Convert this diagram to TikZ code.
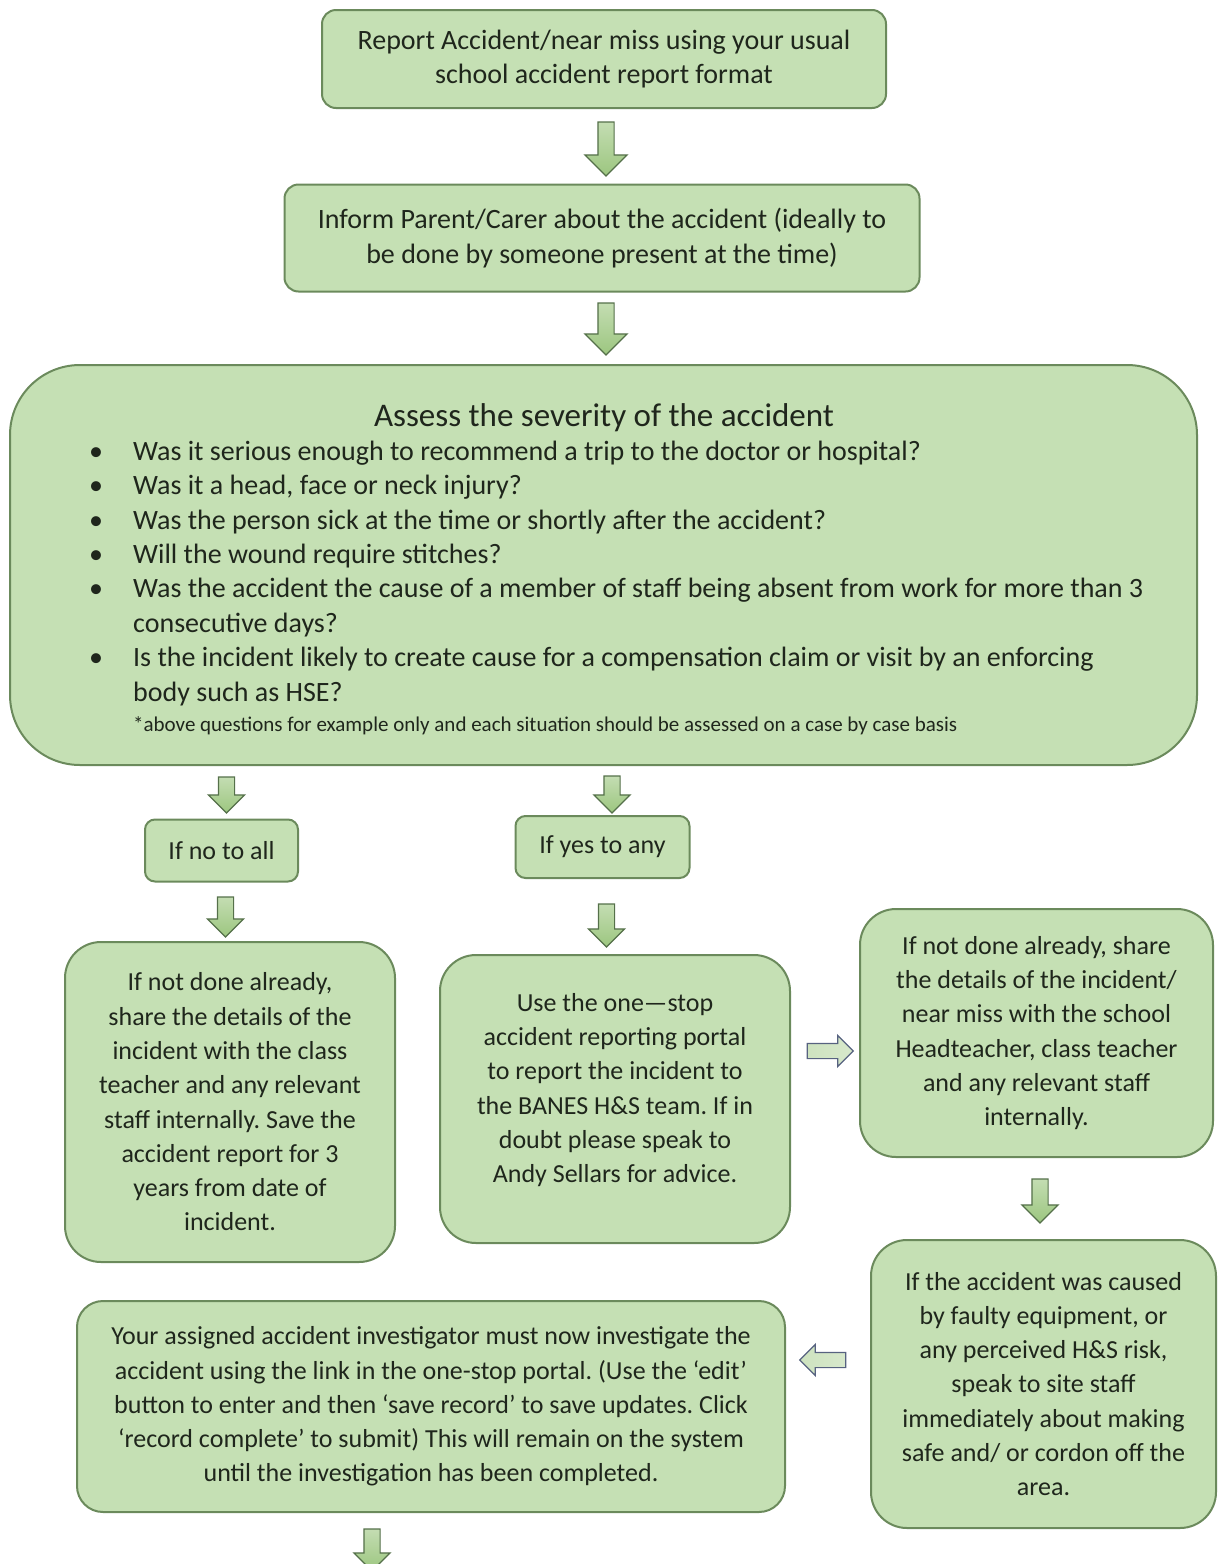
\documentclass[tikz,border=0pt]{standalone}
\usepackage{fontspec}
\setmainfont{Carlito}
\usetikzlibrary{shapes.arrows}
\definecolor{boxfill}{HTML}{C5E0B4}
\definecolor{boxline}{HTML}{6B8A5C}
\definecolor{txt}{HTML}{1F261C}
\definecolor{arrfill}{HTML}{9CC67F}
\definecolor{arrline}{HTML}{55704A}
\frenchspacing
\tikzset{
  box/.style={draw=boxline, line width=2pt, fill=boxfill, align=center, text=txt,
    font=\fontsize{26}{34.3}\selectfont, inner sep=0pt},
  boxtext/.style={align=center, text=txt, font=\fontsize{26}{34.3}\selectfont, inner sep=0pt},
  bigtext/.style={font=\fontsize{28}{34.4}\selectfont},
  darr/.style={single arrow, shape border rotate=270, draw=arrline, line width=1.2pt,
    top color=arrfill!60!white, bottom color=arrfill, inner sep=7.5pt,
    single arrow head extend=10pt, single arrow tip angle=90, minimum height=#1},
  harr/.style={single arrow, draw=arrline!70!blue!60!gray, line width=1.2pt,
    left color=arrfill!50!white, right color=arrfill!40!white, inner sep=7pt,
    single arrow head extend=8pt, single arrow tip angle=90, minimum height=46pt},
}
\begin{document}
\begin{tikzpicture}[x=1pt,y=-1pt]
\useasboundingbox (0,0) rectangle (1218,1564);
% boxes
\node[box, bigtext, rounded corners=14pt, minimum width=564pt, minimum height=98pt] (b1) at (604,59)
  {Report Accident/near miss using your usual\\school accident report format};
\node[box, bigtext, rounded corners=14pt, minimum width=635pt, minimum height=107pt] (b2) at (602,238)
  {Inform Parent/Carer about the accident (ideally to\\be done by someone present at the time)};
\node[box, rounded corners=70pt, minimum width=1187pt, minimum height=400pt] (assess) at (603.5,565) {};
\node[text=txt, font=\fontsize{33}{36}\selectfont] (title) at (604,418) {Assess the severity of the accident};
\node[text=txt, anchor=north west, inner sep=0pt, bigtext] (qs) at (89,436)
  {\begin{tabular}{@{}p{44pt}@{}l@{}}
  \textbullet & Was it serious enough to recommend a trip to the doctor or hospital?\\
  \textbullet & Was it a head, face or neck injury?\\
  \textbullet & Was the person sick at the time or shortly after the accident?\\
  \textbullet & Will the wound require stitches?\\
  \textbullet & Was the accident the cause of a member of staff being absent from work for more than 3\\
   & consecutive days?\\
  \textbullet & Is the incident likely to create cause for a compensation claim or visit by an enforcing\\
   & body such as HSE?
  \end{tabular}};
\node[text=txt, anchor=west, inner sep=0pt, font=\fontsize{21}{24}\selectfont] (note) at (133,726)
  {*above questions for example only and each situation should be assessed on a case by case basis};
\node[box, rounded corners=10pt, minimum width=153pt, minimum height=62pt] (no) at (221.5,850.5) {If no to all};
\node[box, rounded corners=10pt, minimum width=174pt, minimum height=62pt] (yes) at (602.5,847) {If yes to any};
\node[box, rounded corners=36pt, minimum width=330pt, minimum height=320pt] (left) at (230,1102)
  {If not done already,\\share the details of the\\incident with the class\\teacher and any relevant\\staff internally. Save the\\accident report for 3\\years from date of\\incident.};
\node[box, rounded corners=36pt, minimum width=350pt, minimum height=288pt] (mid) at (615,1099) {};
\node[boxtext] (midtext) at (615,1090)
  {Use the one\textemdash stop\\accident reporting portal\\to report the incident to\\the BANES H\&S team. If in\\doubt please speak to\\Andy Sellars for advice.};
\node[box, rounded corners=36pt, minimum width=353pt, minimum height=248pt] (rtop) at (1036.5,1033)
  {If not done already, share\\the details of the incident/\\near miss with the school\\Headteacher, class teacher\\and any relevant staff\\internally.};
\node[box, rounded corners=36pt, minimum width=345pt, minimum height=288pt] (rbot) at (1043.5,1384)
  {If the accident was caused\\by faulty equipment, or\\any perceived H\&S risk,\\speak to site staff\\immediately about making\\safe and/ or cordon off the\\area.};
\node[box, rounded corners=26pt, minimum width=708pt, minimum height=211pt] (bot) at (431,1406.5)
  {Your assigned accident investigator must now investigate the\\accident using the link in the one-stop portal. (Use the ‘edit’\\button to enter and then ‘save record’ to save updates. Click\\‘record complete’ to submit) This will remain on the system\\until the investigation has been completed.};
% arrows
\node[darr=54pt, single arrow head extend=13pt] (a1) at (606,145) {};
\node[darr=52pt, single arrow head extend=13pt] (a2) at (606,325) {};
\node[darr=36pt] (a3) at (226.5,791) {};
\node[darr=37pt] (a4) at (612,790.5) {};
\node[darr=40pt] (a5) at (225.5,913) {};
\node[darr=43pt] (a6) at (606.5,921.5) {};
\node[darr=44pt] (a7) at (1040,1197) {};
\node[harr] (a8) at (826.5,1051) {};
\node[harr, shape border rotate=180] (a9) at (826.5,1360) {};
\node[darr=42pt] (a10) at (372,1546) {};
\end{tikzpicture}
\end{document}
